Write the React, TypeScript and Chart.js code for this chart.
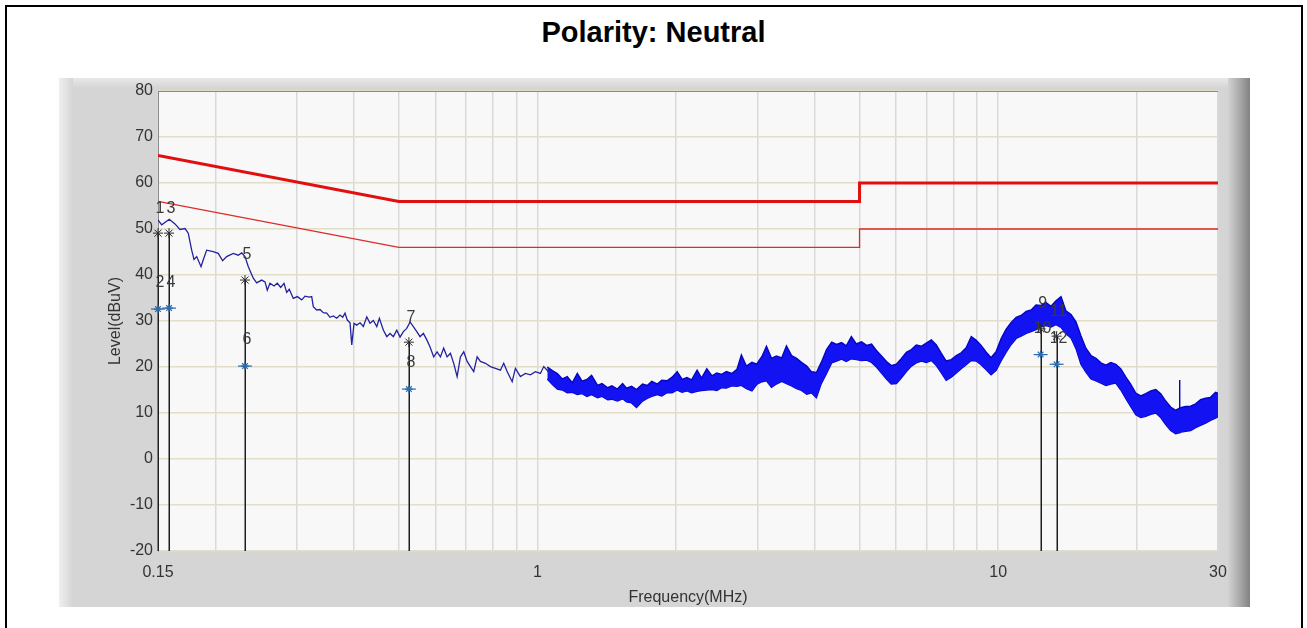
import React, { useEffect, useRef } from 'react';
import { Chart, registerables } from 'chart.js';

Chart.register(...registerables);

// ---- Data ----
// Thin measured trace (0.15 MHz – ~1.07 MHz)
const traceFreqs = [
  0.150, 0.1528, 0.1587, 0.1633, 0.1674, 0.1717, 0.1745, 0.1775, 0.1796, 0.1820,
  0.1860, 0.1881, 0.1913, 0.1977, 0.2027, 0.2072, 0.2114, 0.2185, 0.2240, 0.2279,
  0.2317, 0.2356, 0.2415, 0.2457, 0.2519, 0.2561, 0.2590, 0.2625, 0.2679, 0.2723,
  0.2770, 0.2816, 0.2854, 0.2891, 0.2950, 0.3010, 0.3077, 0.3128, 0.3195, 0.3234,
  0.3260, 0.3316, 0.3371, 0.3427, 0.3486, 0.3544, 0.3603, 0.3665, 0.3725, 0.3776,
  0.3820, 0.3864, 0.3917, 0.3951, 0.3996, 0.4050, 0.4118, 0.4187, 0.4259, 0.4329,
  0.4401, 0.4477, 0.4536, 0.4628, 0.4707, 0.4784, 0.4864, 0.4948, 0.5030, 0.5114,
  0.5201, 0.5288, 0.5375, 0.5468, 0.5559, 0.5652, 0.5749, 0.5841, 0.5950, 0.6052,
  0.6154, 0.6255, 0.6363, 0.6469, 0.6577, 0.6690, 0.6801, 0.6915, 0.7033, 0.7151,
  0.7269, 0.7394, 0.7516, 0.7707, 0.7901, 0.8102, 0.8306, 0.8444, 0.8590, 0.8808,
  0.8953, 0.9180, 0.9411, 0.9650, 0.9895, 1.0144, 1.0314, 1.0491, 1.0664,
];
const traceLevels = [
  52.0, 50.9, 52.1, 51.1, 49.9, 50.1, 49.1, 45.4, 43.4, 44.0,
  41.8, 43.3, 45.4, 45.1, 44.7, 43.1, 44.0, 44.7, 44.3, 44.8,
  44.0, 41.8, 39.3, 38.3, 38.9, 38.5, 36.7, 38.2, 37.6, 38.2,
  37.3, 38.2, 36.2, 36.9, 34.9, 35.3, 34.6, 35.4, 35.2, 35.3,
  33.1, 32.4, 32.5, 31.8, 31.7, 30.8, 31.1, 30.6, 31.3, 30.8,
  31.7, 30.2, 29.6, 24.8, 29.5, 29.1, 29.6, 28.8, 30.9, 29.5,
  30.1, 28.8, 30.6, 28.0, 26.6, 27.3, 26.6, 28.0, 26.5, 27.7,
  28.4, 29.8, 28.8, 27.7, 26.6, 27.3, 25.9, 24.4, 22.2, 23.3,
  22.2, 24.1, 22.2, 23.0, 20.8, 17.9, 22.2, 23.3, 21.2, 20.1,
  19.0, 22.2, 21.2, 20.8, 20.1, 19.7, 19.3, 20.8, 19.0, 16.8,
  19.7, 17.9, 18.6, 18.3, 19.0, 18.6, 20.1, 19.3, 18.3,
];

// Dense part of the trace (1.05 MHz – 30 MHz): upper and lower edge of the noise band
const bandFreqs = [
  1.05, 1.077, 1.104, 1.132, 1.16, 1.19, 1.22, 1.25, 1.28, 1.31,
  1.35, 1.38, 1.42, 1.45, 1.49, 1.53, 1.56, 1.6, 1.64, 1.69,
  1.73, 1.77, 1.82, 1.86, 1.91, 1.96, 2.01, 2.06, 2.11, 2.16,
  2.22, 2.27, 2.33, 2.39, 2.45, 2.51, 2.57, 2.64, 2.71, 2.77,
  2.84, 2.92, 2.99, 3.07, 3.14, 3.22, 3.3, 3.39, 3.47, 3.56,
  3.65, 3.74, 3.84, 3.93, 4.03, 4.13, 4.24, 4.35, 4.46, 4.57,
  4.68, 4.8, 4.92, 5.05, 5.18, 5.31, 5.44, 5.58, 5.72, 5.86,
  6.01, 6.16, 6.32, 6.48, 6.64, 6.81, 6.98, 7.16, 7.34, 7.52,
  7.71, 7.91, 8.11, 8.31, 8.52, 8.74, 8.96, 9.18, 9.42, 9.65,
  9.9, 10.15, 10.4, 10.67, 10.94, 11.21, 11.5, 11.79, 12.08, 12.39,
  12.7, 13.02, 13.35, 13.69, 14.03, 14.39, 14.75, 15.12, 15.5, 15.9,
  16.3, 16.71, 17.13, 17.56, 18.0, 18.46, 18.93, 19.4, 19.89, 20.39,
  20.91, 21.44, 21.98, 22.53, 23.1, 23.68, 24.28, 24.7, 24.75, 24.8,
  25.52, 26.17, 26.83, 27.5, 28.2, 28.9, 29.63, 30,
];
const bandUpper = [
  20.0, 19.2, 18.6, 17.4, 17.9, 16.6, 18.6, 16.9, 17.3, 18.2,
  16.0, 16.4, 15.5, 15.9, 15.2, 16.4, 15.4, 15.8, 15.1, 16.3,
  16.0, 16.9, 16.3, 17.1, 17.0, 17.8, 19.0, 17.3, 17.7, 17.2,
  19.3, 17.6, 19.6, 18.1, 18.7, 18.4, 19.0, 18.6, 19.5, 22.6,
  20.2, 21.0, 20.6, 22.3, 24.5, 21.9, 22.4, 22.0, 24.6, 22.5,
  21.9, 21.0, 20.2, 19.0, 18.8, 21.0, 23.8, 25.4, 24.9, 25.3,
  24.6, 26.6, 25.0, 25.5, 24.7, 25.0, 23.6, 22.4, 21.2, 20.3,
  20.6, 21.8, 23.2, 23.8, 24.8, 24.5, 25.2, 25.9, 24.8, 23.0,
  21.3, 21.6, 22.5, 23.1, 24.2, 26.6, 25.8, 24.7, 23.2, 22.0,
  23.4, 26.2, 28.2, 29.7, 30.8, 31.2, 32.1, 32.4, 33.5, 33.4,
  34.0, 33.2, 34.4, 35.3, 32.2, 31.4, 29.8, 26.8, 24.1, 22.5,
  21.9, 20.9, 20.4, 21.0, 20.6, 19.6, 17.8, 16.2, 14.3, 13.7,
  14.2, 14.8, 15.1, 14.2, 12.6, 11.3, 10.6, 11.0, 17.2, 11.1,
  11.4, 11.5, 12.0, 12.9, 13.2, 13.4, 14.5, 14.3,
];
const bandLower = [
  17.4, 16.2, 15.2, 15.0, 14.4, 14.5, 14.0, 14.2, 13.6, 14.0,
  13.3, 13.6, 12.9, 13.0, 12.6, 13.1, 12.4, 12.2, 11.2, 12.6,
  13.2, 13.6, 14.0, 13.7, 14.4, 14.4, 15.0, 14.5, 14.8, 14.4,
  14.7, 14.9, 15.0, 15.1, 14.9, 15.5, 15.4, 15.9, 15.8, 16.0,
  15.3, 14.8, 16.2, 16.8, 17.0, 15.6, 16.3, 16.9, 16.4, 15.9,
  15.3, 14.9, 14.1, 14.4, 13.3, 16.4, 18.6, 20.9, 21.3, 21.7,
  21.2, 21.8, 21.6, 21.4, 21.5, 21.0, 20.0, 18.7, 17.4, 16.3,
  16.4, 17.6, 19.0, 20.2, 20.9, 21.3, 21.0, 21.4, 20.3, 18.8,
  17.1, 17.8, 18.7, 19.6, 20.5, 21.4, 21.3, 20.5, 19.4, 18.3,
  19.3, 21.4, 23.2, 24.9, 26.2, 26.7, 27.3, 27.7, 28.1, 28.8,
  29.0, 28.7, 29.2, 28.6, 27.2, 26.3, 24.0, 20.6, 18.9, 17.4,
  17.0, 16.5, 16.0, 16.3, 16.5, 15.0, 13.1, 11.4, 9.6, 9.0,
  9.3, 9.7, 10.0, 9.0, 7.5, 6.2, 5.5, 5.7, 5.8, 5.8,
  6.0, 6.2, 6.8, 7.3, 7.8, 8.4, 8.9, 9.2,
];

// Limit lines (EN 55032 class B conducted)
const limitFreqs = [0.15, 0.5, 5, 5, 30];
const qpLimit = [66, 56, 56, 60, 60];
const avLimit = [56, 46, 46, 50, 50];

// Final measurement markers
const markerFreqs = [0.15, 0.1585, 0.2317, 0.5257, 12.36, 13.39];
const qpMarkerLevels = [49.1, 49.1, 38.9, 25.4, 28.3, 26.7];
const avMarkerLevels = [32.6, 32.8, 20.2, 15.2, 22.7, 20.6];
const qpMarkerIds = ['1', '3', '5', '7', '9', '11'];
const avMarkerIds = ['2', '4', '6', '8', '10', '12'];

// Axes
const xGridValues = [0.15, 0.2, 0.3, 0.4, 0.5, 0.6, 0.7, 0.8, 0.9, 1, 2, 3, 4, 5, 6, 7, 8, 9, 10, 20, 30];
const xLabelValues = [0.15, 1, 10, 30];
const xLabelTexts = ['0.15', '1', '10', '30'];
const yMin = -20;
const yMax = 80;
const yStep = 10;

const TITLE = 'Polarity: Neutral';
const X_TITLE = 'Frequency(MHz)';
const Y_TITLE = 'Level(dBuV)';

const pts = (xs: number[], ys: number[]) => xs.map((x, i) => ({ x, y: ys[i] }));

const FONT = "'Liberation Sans', Arial, sans-serif";

const decorPlugin = {
  id: 'decor',
  beforeDraw(chart: any) {
    const { ctx, chartArea } = chart;
    ctx.save();
    const px0 = 59, py0 = 78, px1 = 1250, py1 = 607;
    ctx.fillStyle = '#d5d5d5';
    ctx.fillRect(px0, py0, px1 - px0, py1 - py0);
    let g = ctx.createLinearGradient(px0, 0, px0 + 14, 0);
    g.addColorStop(0, '#efefef');
    g.addColorStop(1, '#d5d5d5');
    ctx.fillStyle = g;
    ctx.fillRect(px0, py0, 14, py1 - py0);
    g = ctx.createLinearGradient(0, py0, 0, py0 + 10);
    g.addColorStop(0, '#e8e8e8');
    g.addColorStop(1, '#d5d5d5');
    ctx.fillStyle = g;
    ctx.fillRect(px0 + 14, py0, px1 - px0 - 34, 10);
    g = ctx.createLinearGradient(1228, 0, px1, 0);
    g.addColorStop(0, '#d2d2d2');
    g.addColorStop(0.5, '#acacac');
    g.addColorStop(1, '#828282');
    ctx.fillStyle = g;
    ctx.fillRect(1228, py0, px1 - 1228, py1 - py0);
    ctx.fillStyle = '#f8f8f8';
    ctx.fillRect(chartArea.left, chartArea.top, chartArea.right - chartArea.left, chartArea.bottom - chartArea.top);
    ctx.restore();
  },
  beforeDatasetsDraw(chart: any) {
    const { ctx, chartArea, scales } = chart;
    const xs = scales.x, ys = scales.y;
    ctx.save();
    ctx.strokeStyle = '#8a8a8a';
    ctx.lineWidth = 1;
    ctx.beginPath();
    ctx.moveTo(chartArea.left, chartArea.top + 0.5);
    ctx.lineTo(chartArea.right, chartArea.top + 0.5);
    ctx.stroke();
    ctx.strokeStyle = '#1e1e1e';
    ctx.lineWidth = 1.5;
    markerFreqs.forEach((f, i) => {
      const x = Math.round(xs.getPixelForValue(f)) + 0.25;
      ctx.beginPath();
      ctx.moveTo(x, ys.getPixelForValue(qpMarkerLevels[i]));
      ctx.lineTo(x, ys.getPixelForValue(yMin));
      ctx.stroke();
    });
    ctx.restore();
  },
  afterDatasetsDraw(chart: any) {
    const { ctx, scales } = chart;
    const xs = scales.x, ys = scales.y;
    ctx.save();
    ctx.font = `16px ${FONT}`;
    ctx.fillStyle = '#3a3a3a';
    ctx.textAlign = 'center';
    ctx.textBaseline = 'middle';
    markerFreqs.forEach((f, i) => {
      const x = xs.getPixelForValue(f) + 2;
      ctx.fillText(qpMarkerIds[i], x, ys.getPixelForValue(qpMarkerLevels[i]) - 25);
      ctx.fillText(avMarkerIds[i], x, ys.getPixelForValue(avMarkerLevels[i]) - 26);
    });
    ctx.restore();
  },
};

export default function App() {
  const ref = useRef<HTMLCanvasElement | null>(null);

  useEffect(() => {
    if (!ref.current) return;
    const chart = new Chart(ref.current, {
      type: 'line',
      data: {
        datasets: [
          {
            label: 'QP markers',
            data: pts(markerFreqs, qpMarkerLevels),
            showLine: false,
            pointStyle: 'star',
            pointRadius: 5,
            borderColor: '#2a2a2a',
            backgroundColor: '#2a2a2a',
            pointBorderWidth: 1,
            clip: false,
          } as any,
          {
            label: 'AV markers',
            data: pts(markerFreqs, avMarkerLevels),
            showLine: false,
            pointStyle: 'star',
            pointRadius: 4,
            borderColor: '#2c6aa8',
            backgroundColor: '#2c6aa8',
            pointBorderWidth: 1.2,
            clip: false,
          } as any,
          {
            label: 'AV markers bar',
            data: pts(markerFreqs, avMarkerLevels),
            showLine: false,
            pointStyle: 'line',
            pointRadius: 7,
            borderColor: '#2c6aa8',
            pointBorderWidth: 1.2,
            clip: false,
          } as any,
          {
            label: 'QP limit',
            data: pts(limitFreqs, qpLimit),
            borderColor: '#e01010',
            borderWidth: 3,
            pointRadius: 0,
            tension: 0,
          },
          {
            label: 'AV limit',
            data: pts(limitFreqs, avLimit),
            borderColor: '#dd2a2a',
            borderWidth: 1.3,
            pointRadius: 0,
            tension: 0,
          },
          {
            label: 'Trace',
            data: pts(traceFreqs, traceLevels),
            borderColor: '#22229e',
            borderWidth: 1.3,
            pointRadius: 0,
            tension: 0,
          },
          {
            label: 'Band upper',
            data: pts(bandFreqs, bandUpper),
            borderColor: '#0505c0',
            backgroundColor: '#1212f2',
            borderWidth: 1.4,
            pointRadius: 0,
            tension: 0,
            fill: '+1',
          },
          {
            label: 'Band lower',
            data: pts(bandFreqs, bandLower),
            borderColor: '#0505c0',
            borderWidth: 1.4,
            pointRadius: 0,
            tension: 0,
          },
        ],
      },
      options: {
        responsive: false,
        animation: false,
        devicePixelRatio: 1,
        events: [],
        layout: { padding: { left: 60, right: 89, top: 91, bottom: 21 } },
        plugins: {
          legend: { display: false },
          tooltip: { enabled: false },
          title: { display: false },
        },
        scales: {
          x: {
            type: 'logarithmic',
            min: 0.15,
            max: 30,
            afterBuildTicks: (scale: any) => {
              scale.ticks = xGridValues.map((v) => ({ value: v }));
            },
            afterFit: (scale: any) => {
              scale.height = 56;
            },
            ticks: {
              autoSkip: false,
              maxRotation: 0,
              minRotation: 0,
              padding: 12,
              color: '#333333',
              font: { family: FONT, size: 16 },
              callback: (value: any) => {
                const idx = xLabelValues.findIndex((v) => Math.abs(v - Number(value)) < 1e-9);
                return idx >= 0 ? xLabelTexts[idx] : '';
              },
            },
            grid: { color: '#d9d9d9', lineWidth: 1.5, drawTicks: false },
            border: { display: false },
            title: {
              display: true,
              text: X_TITLE,
              color: '#333333',
              font: { family: FONT, size: 16 },
              padding: { top: 0, bottom: 0 },
            },
          },
          y: {
            type: 'linear',
            min: yMin,
            max: yMax,
            afterFit: (scale: any) => {
              scale.width = 98;
            },
            ticks: {
              stepSize: yStep,
              padding: 5,
              color: '#333333',
              font: { family: FONT, size: 16 },
            },
            grid: { color: '#e2ddc6', lineWidth: 1.5, drawTicks: false },
            border: { display: true, color: '#8a8a8a', width: 1 },
            title: {
              display: true,
              text: Y_TITLE,
              color: '#333333',
              font: { family: FONT, size: 16 },
              padding: { top: 46, bottom: 0 },
            },
          },
        },
      } as any,
      plugins: [decorPlugin],
    });
    return () => chart.destroy();
  }, []);

  return (
    <div style={{ position: 'fixed', left: 0, top: 0, width: 1307, height: 628, background: '#ffffff', overflow: 'hidden' }}>
      <div
        style={{
          position: 'absolute',
          left: 5,
          top: 5,
          width: 1294,
          height: 700,
          border: '2px solid #000',
          boxSizing: 'content-box',
        }}
      />
      <div
        style={{
          position: 'absolute',
          left: 0,
          top: 16,
          width: 1307,
          textAlign: 'center',
          fontFamily: FONT,
          fontWeight: 'bold',
          fontSize: 29,
          lineHeight: '33px',
          color: '#000',
        }}
      >
        {TITLE}
      </div>
      <canvas ref={ref} width={1307} height={628} style={{ position: 'absolute', left: 0, top: 0 }} />
    </div>
  );
}
